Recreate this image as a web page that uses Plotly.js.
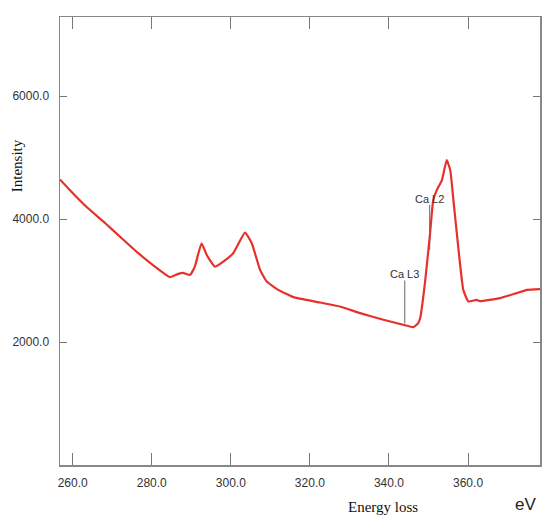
<!DOCTYPE html>
<html>
<head>
<meta charset="utf-8">
<script src="https://cdn.plot.ly/plotly-3.0.1.min.js"></script>
<style>html,body{margin:0;padding:0;background:#fff;}#chart{width:543px;height:516px;}</style>
</head>
<body>
<div id="chart"></div>
<script>
// Energy loss (eV)
var energy = [256.8, 258.9, 263.9, 268.2, 272.4, 276.6, 280.8, 284.6, 286.7, 287.9, 289.7, 290.9, 292.6, 293.9, 296.0, 298.1, 300.6, 303.6, 305.3, 307.4, 309.1, 312.0, 315.8, 322.6, 327.6, 332.7, 338.6, 343.6, 346.2, 347.4, 347.9, 349.1, 350.4, 351.2, 352.1, 353.4, 354.6, 355.5, 356.3, 357.6, 358.8, 360.1, 362.2, 363.0, 368.1, 372.3, 374.9, 378.2];
// Intensity
var intensity = [4644, 4498, 4174, 3935, 3687, 3444, 3226, 3054, 3108, 3124, 3092, 3226, 3606, 3416, 3226, 3307, 3444, 3778, 3606, 3173, 2983, 2848, 2730, 2642, 2577, 2470, 2362, 2281, 2243, 2308, 2389, 2957, 3768, 4308, 4470, 4633, 4957, 4795, 4308, 3497, 2848, 2659, 2686, 2665, 2714, 2795, 2848, 2860];

var xTicks = [260, 280, 300, 320, 340, 360];
var yTicks = [2000, 4000, 6000];

// Edge markers
var edgeLabels = ["Ca L2", "Ca L3"];
var edgeX = [350.3, 344.0];
var edgeLabelY = [4324, 3108];
var edgeTop = [4230, 3000];
var edgeBottom = [3500, 2300];

var trace = {
  x: energy, y: intensity, type: 'scatter', mode: 'lines',
  line: {color: '#e8302a', width: 2.2, shape: 'spline', smoothing: 0.4},
  hoverinfo: 'skip'
};

var annotations = [];
var shapes = [];
for (var i = 0; i < edgeLabels.length; i++) {
  annotations.push({x: edgeX[i], y: edgeLabelY[i], xref: 'x', yref: 'y', text: edgeLabels[i],
    xanchor: 'center', yanchor: 'middle',
    showarrow: false, font: {family: 'Liberation Sans, Arial, sans-serif', size: 11, color: '#333'}});
  shapes.push({type: 'line', xref: 'x', yref: 'y', x0: edgeX[i], x1: edgeX[i], y0: edgeTop[i], y1: edgeBottom[i],
    line: {color: '#666', width: 1}});
}
annotations.push({xref: 'paper', yref: 'paper', x: -0.0896, y: 0.669, text: 'Intensity', textangle: -90,
  xanchor: 'center', yanchor: 'middle',
  showarrow: false, font: {family: 'Liberation Serif, Times New Roman, serif', size: 15, color: '#111'}});
annotations.push({xref: 'paper', yref: 'paper', x: 0.673, y: -0.0947, text: 'Energy loss',
  xanchor: 'center', yanchor: 'middle',
  showarrow: false, font: {family: 'Liberation Serif, Times New Roman, serif', size: 15, color: '#111'}});
annotations.push({xref: 'paper', yref: 'paper', x: 0.996, y: -0.088, text: 'eV',
  xanchor: 'right', yanchor: 'middle',
  showarrow: false, font: {family: 'Liberation Sans, Arial, sans-serif', size: 17, color: '#222'}});

var axisCommon = {
  showgrid: false, zeroline: false, showline: true, linecolor: '#888', linewidth: 1.5,
  mirror: 'ticks', ticks: 'inside', tickcolor: '#777', tickwidth: 1,
  tickformat: '.1f', tickfont: {family: 'Liberation Sans, Arial, sans-serif', size: 12, color: '#333'}
};

var layout = {
  width: 543, height: 516,
  margin: {l: 60, r: 3, t: 16.5, b: 50.5},
  paper_bgcolor: '#fff', plot_bgcolor: '#fff',
  showlegend: false,
  xaxis: Object.assign({}, axisCommon, {range: [256.8, 378.2], tickvals: xTicks, ticklen: 12, ticklabelstandoff: 6}),
  yaxis: Object.assign({}, axisCommon, {range: [0, 7285], tickvals: yTicks, ticklen: 7, ticklabelstandoff: 7}),
  annotations: annotations,
  shapes: shapes
};

Plotly.newPlot('chart', [trace], layout, {displayModeBar: false, staticPlot: true});
</script>
</body>
</html>
